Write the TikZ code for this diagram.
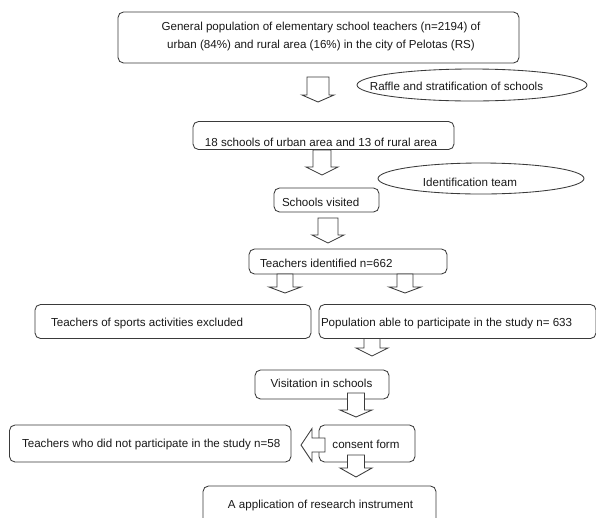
\documentclass[tikz,border=0pt]{standalone}
\usepackage{fontspec}
\setmainfont{Liberation Sans}
\usetikzlibrary{shapes.geometric}
\definecolor{lc}{HTML}{3A3A3A}
\newcommand\fsz{\fontsize{11.6pt}{18pt}\selectfont}
\newcommand\mydarrow[5]{% x, ytop, yshaftend, ytip, shaft half width
  \draw[barrow] (#1-#5,#2) -- (#1+#5,#2) -- (#1+#5,#3) -- (#1+16,#3) -- (#1,#4)
    -- (#1-16,#3) -- (#1-#5,#3) -- cycle;}
\tikzset{
  box/.style={draw=lc, rounded corners=5.5pt, line width=0.85pt, inner sep=0pt, outer sep=0pt},
  oval/.style={draw=lc, ellipse, line width=0.85pt, inner sep=0pt, outer sep=0pt},
  txt/.style={inner sep=0pt, outer sep=0pt, font=\fsz, text=black!90},
  barrow/.style={draw=lc, fill=white, line width=0.85pt, line join=miter},
}
\begin{document}
\begin{tikzpicture}[x=1pt,y=-1pt]
\clip (0,0) rectangle (596,517);
\fill[white] (0,0) rectangle (596,517);
% boxes
\node[box, minimum width=401pt, minimum height=51pt] (b1) at (318.5,37.5) {};
\node[txt, align=center] (t1) at (321,36) {General population of elementary school teachers (n=2194) of\\urban (84\%) and rural area (16\%) in the city of Pelotas (RS)};
\node[box, minimum width=261pt, minimum height=28pt] (b2) at (323.5,135.5) {};
\node[txt] (t2) at (321,142) {18 schools of urban area and 13 of rural area};
\node[box, minimum width=105pt, minimum height=24pt] (b3) at (326.5,200) {};
\node[txt, anchor=west] (t3) at (282,202) {Schools visited};
\node[box, minimum width=198pt, minimum height=25pt] (b4) at (348,261.5) {};
\node[txt, anchor=west] (t4) at (260,263) {Teachers identified n=662};
\node[box, minimum width=276pt, minimum height=34pt] (b5) at (173,321.5) {};
\node[txt, anchor=west] (t5) at (51,323) {Teachers of sports activities excluded};
\node[box, minimum width=277pt, minimum height=34pt] (b6) at (457.5,321.5) {};
\node[txt, anchor=west] (t6) at (321,323) {Population able to participate in the study n= 633};
\node[box, minimum width=134pt, minimum height=29pt] (b7) at (322,384.5) {};
\node[txt] (t7) at (321.5,383) {Visitation in schools};
\node[box, minimum width=281.5pt, minimum height=37pt] (b8) at (150.25,443.5) {};
\node[txt, anchor=west] (t8) at (22,444) {Teachers who did not participate in the study n=58};
\node[box, minimum width=96pt, minimum height=37pt] (b9) at (367,443.5) {};
\node[txt] (t9) at (366,444) {consent form};
\node[box, minimum width=233pt, minimum height=54pt] (b10) at (319.5,513) {};
\node[txt] (t10) at (320.5,505) {A application of research instrument};
% ovals
\node[oval, minimum width=230pt, minimum height=32pt] (e1) at (472,85) {};
\node[txt] (te1) at (456.5,86) {Raffle and stratification of schools};
\node[oval, minimum width=206pt, minimum height=31pt] (e2) at (481,178.5) {};
\node[txt] (te2) at (470,182) {Identification team};
% block arrows
\mydarrow{318}{77}{95}{102}{11}
\mydarrow{322}{150}{167}{175}{9}
\mydarrow{328}{218}{235}{243}{10}
\mydarrow{285}{274}{287}{293}{8}
\mydarrow{405}{274}{287}{293}{8}
\mydarrow{372}{338.5}{348}{356}{8}
\mydarrow{356}{393}{410}{417}{8.5}
\mydarrow{356}{455}{468}{477}{8.5}
\draw[barrow] (325,438) -- (325,452) -- (312,452) -- (312,461.5) -- (301,445)
  -- (312,428.5) -- (312,438) -- cycle;
\end{tikzpicture}
\end{document}
